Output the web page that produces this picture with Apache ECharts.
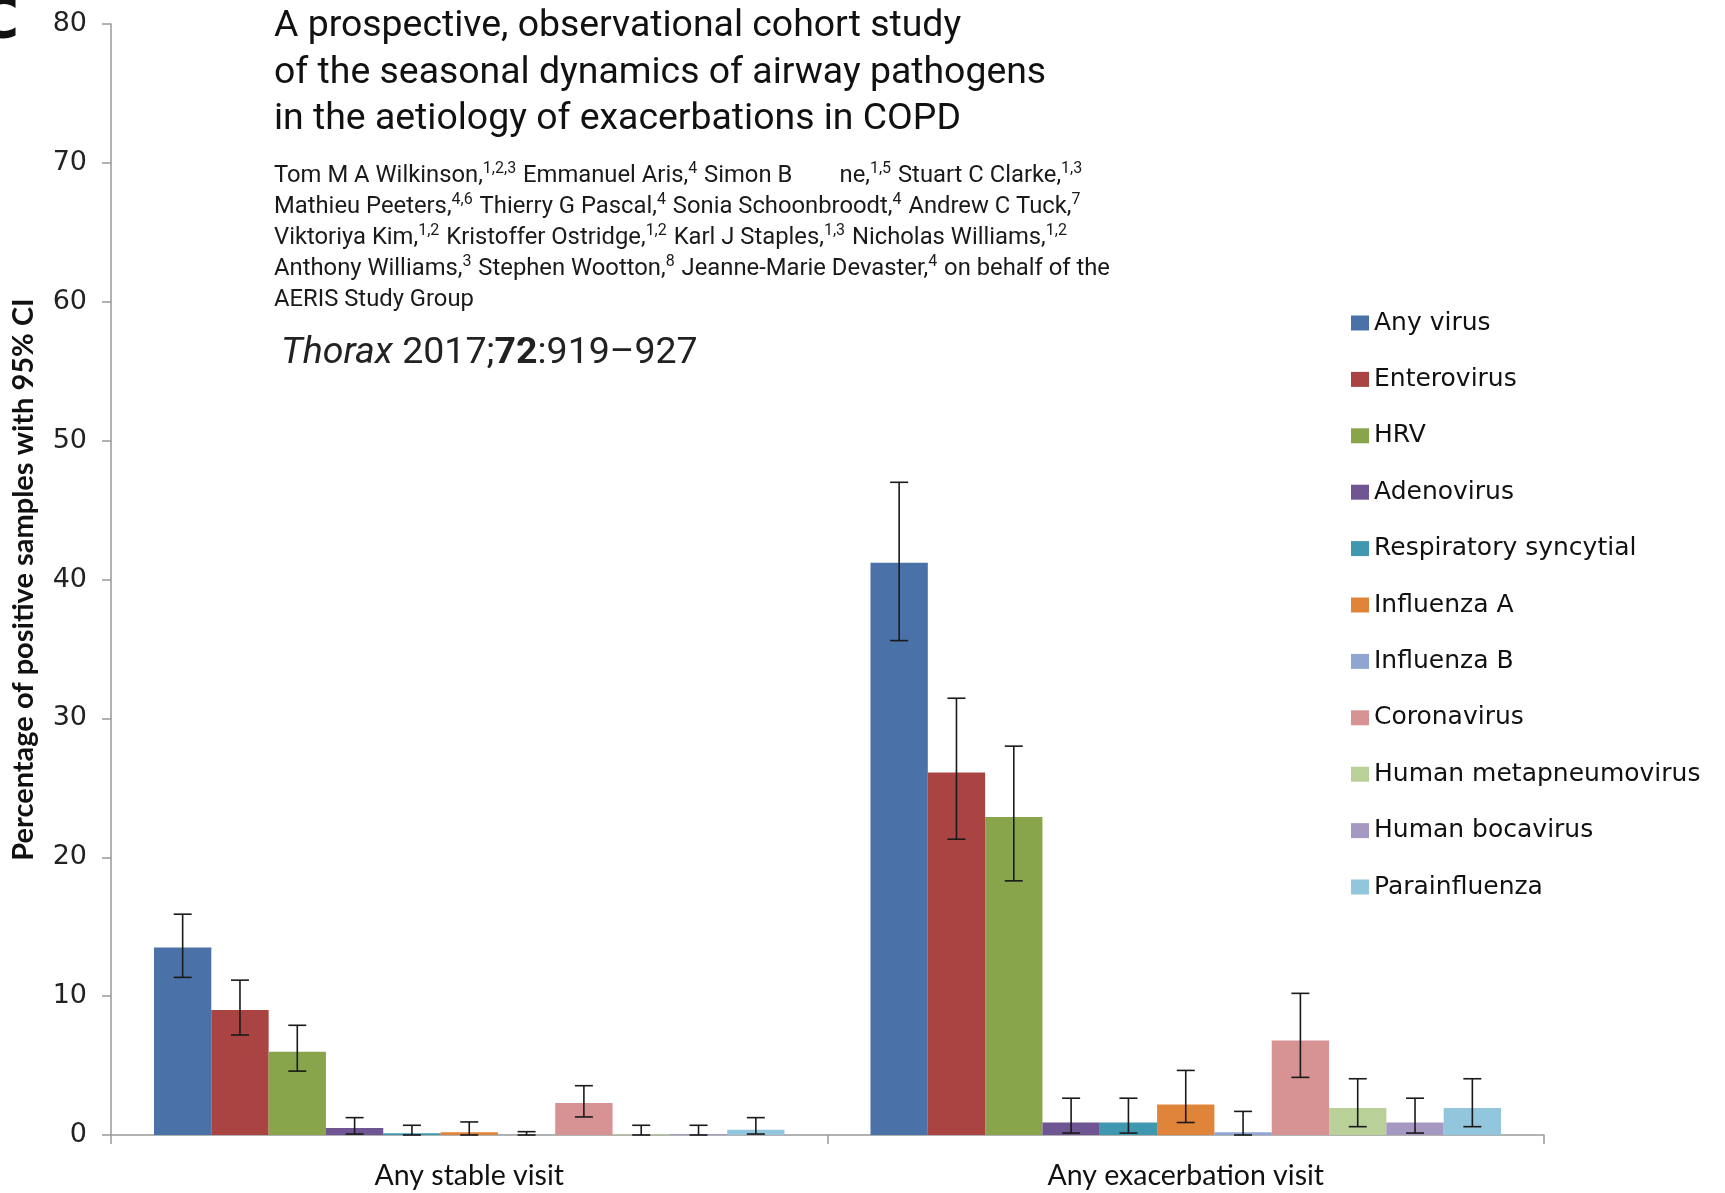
<!DOCTYPE html>
<html>
<head>
<meta charset="utf-8">
<script src="https://cdn.jsdelivr.net/npm/echarts@6/dist/echarts.min.js"></script>
<style>
  html, body { margin: 0; padding: 0; background: #fff; }
  #chart { width: 1725px; height: 1193px; }
</style>
</head>
<body>
<div id="chart"></div>
<script>
// Visit types on the x axis
const categories = ['Any stable visit', 'Any exacerbation visit'];

// Pathogens, in legend / bar order
const pathogens = [
  'Any virus', 'Enterovirus', 'HRV', 'Adenovirus', 'Respiratory syncytial',
  'Influenza A', 'Influenza B', 'Coronavirus', 'Human metapneumovirus',
  'Human bocavirus', 'Parainfluenza'
];

const colors = [
  '#4a72a8', '#a94442', '#89a54c', '#6f5592', '#3f97b0',
  '#e0843a', '#8fa6d2', '#d79293', '#b9d098', '#a599c2', '#92c6dc'
];

// Percentage of positive samples, per pathogen: [stable, exacerbation]
const anyVirus     = [13.5, 41.2];
const enterovirus  = [9.0, 26.1];
const hrv          = [6.0, 22.9];
const adenovirus   = [0.5, 0.9];
const rsv          = [0.12, 0.9];
const influenzaA   = [0.2, 2.2];
const influenzaB   = [0.02, 0.2];
const coronavirus  = [2.3, 6.8];
const hmpv         = [0.06, 1.95];
const bocavirus    = [0.08, 0.9];
const parainfluenza = [0.38, 1.95];

// 95% CI lower / upper bounds: [stable, exacerbation]
const ciLow = {
  'Any virus': [11.35, 35.6],
  'Enterovirus': [7.2, 21.3],
  'HRV': [4.6, 18.3],
  'Adenovirus': [0.07, 0.14],
  'Respiratory syncytial': [0.0, 0.14],
  'Influenza A': [0.0, 0.9],
  'Influenza B': [0.0, 0.0],
  'Coronavirus': [1.3, 4.15],
  'Human metapneumovirus': [0.0, 0.6],
  'Human bocavirus': [0.0, 0.14],
  'Parainfluenza': [0.07, 0.6]
};
const ciHigh = {
  'Any virus': [15.9, 47.0],
  'Enterovirus': [11.15, 31.45],
  'HRV': [7.9, 28.0],
  'Adenovirus': [1.25, 2.65],
  'Respiratory syncytial': [0.7, 2.65],
  'Influenza A': [0.94, 4.65],
  'Influenza B': [0.24, 1.7],
  'Coronavirus': [3.55, 10.2],
  'Human metapneumovirus': [0.7, 4.05],
  'Human bocavirus': [0.7, 2.65],
  'Parainfluenza': [1.25, 4.05]
};

// Y axis ticks
const yMin = 0, yMax = 80, yStep = 10;

const values = [anyVirus, enterovirus, hrv, adenovirus, rsv, influenzaA,
  influenzaB, coronavirus, hmpv, bocavirus, parainfluenza];

const CATEGORY_GAP = 0.12;
const N = pathogens.length;

const barSeries = pathogens.map((name, i) => ({
  name: name,
  type: 'bar',
  data: values[i],
  itemStyle: { color: colors[i] },
  barGap: '0%',
  barCategoryGap: (CATEGORY_GAP * 100) + '%',
  emphasis: { disabled: true }
}));

// Error bars drawn over each bar, placed at that bar's centre
const errorSeries = pathogens.map((name, i) => ({
  name: name,
  type: 'custom',
  z: 5,
  data: categories.map((c, k) => [k, ciLow[name][k], ciHigh[name][k]]),
  encode: { x: 0, y: [1, 2] },
  renderItem: function (params, api) {
    const cat = api.value(0);
    const lo = api.value(1), hi = api.value(2);
    const band = api.size([1, 0])[0];
    const group = band * (1 - CATEGORY_GAP);
    const bw = group / N;
    const cx = api.coord([cat, 0])[0] - group / 2 + (i + 0.5) * bw;
    const yl = api.coord([cat, lo])[1];
    const yh = api.coord([cat, hi])[1];
    const hw = 9;
    const st = { stroke: '#1a1a1a', lineWidth: 1.6 };
    return {
      type: 'group',
      children: [
        { type: 'line', shape: { x1: cx, y1: yl, x2: cx, y2: yh }, style: st },
        { type: 'line', shape: { x1: cx - hw, y1: yh, x2: cx + hw, y2: yh }, style: st },
        { type: 'line', shape: { x1: cx - hw, y1: yl, x2: cx + hw, y2: yl }, style: st }
      ]
    };
  }
}));

const head = "Roboto, sans-serif";
const sup = { fontFamily: head, fontSize: 16, fill: '#1a1a1a', verticalAlign: 'top', lineHeight: 31, padding: [0, 1, 0, 0] };
const txt = { fontFamily: head, fontSize: 23.8, fill: '#1a1a1a', lineHeight: 31 };

const authors = [
  '{t|Tom M A Wilkinson,}{s|1,2,3}{t| Emmanuel Aris,}{s|4}{t| Simon B        ne,}{s|1,5}{t| Stuart C Clarke,}{s|1,3}',
  '{t|Mathieu Peeters,}{s|4,6}{t| Thierry G Pascal,}{s|4}{t| Sonia Schoonbroodt,}{s|4}{t| Andrew C Tuck,}{s|7}',
  '{t|Viktoriya Kim,}{s|1,2}{t| Kristoffer Ostridge,}{s|1,2}{t| Karl J Staples,}{s|1,3}{t| Nicholas Williams,}{s|1,2}',
  '{t|Anthony Williams,}{s|3}{t| Stephen Wootton,}{s|8}{t| Jeanne-Marie Devaster,}{s|4}{t| on behalf of the}',
  '{t|AERIS Study Group}'
].join('\n');

const chart = echarts.init(document.getElementById('chart'), null, { renderer: 'canvas' });

chart.setOption({
  animation: false,
  backgroundColor: '#ffffff',
  grid: { left: 111, right: 181, top: 24, bottom: 58, containLabel: false },
  legend: {
    orient: 'vertical',
    left: 1346,
    top: 303,
    itemWidth: 18,
    itemHeight: 15,
    itemGap: 26.4,
    icon: 'rect',
    data: pathogens.map(n => ({ name: n, icon: 'rect' })),
    textStyle: { fontFamily: "'DejaVu Sans', sans-serif", fontSize: 25, color: '#111', lineHeight: 30 },
    selectedMode: false
  },
  xAxis: {
    type: 'category',
    data: categories,
    axisLine: { lineStyle: { color: '#999', width: 1.5 } },
    axisTick: { show: true, length: 9, lineStyle: { color: '#999', width: 1.5 } },
    axisLabel: { fontFamily: 'Lato, sans-serif', fontSize: 28.5, color: '#111', margin: 26 },
    splitLine: { show: false }
  },
  yAxis: {
    type: 'value',
    min: yMin,
    max: yMax,
    interval: yStep,
    name: 'Percentage of positive samples with 95% CI',
    nameLocation: 'middle',
    nameGap: 73,
    nameTextStyle: { fontFamily: 'Lato, sans-serif', fontWeight: 'bold', fontSize: 29, color: '#111' },
    axisLine: { show: true, lineStyle: { color: '#999', width: 1.5 } },
    axisTick: { show: true, length: 9, lineStyle: { color: '#999', width: 1.5 } },
    axisLabel: { fontFamily: "'DejaVu Sans', sans-serif", fontSize: 27, color: '#222', margin: 24 },
    splitLine: { show: false }
  },
  graphic: [
    {
      type: 'text', x: 19, y: 22,
      style: { text: 'C', align: 'right', verticalAlign: 'middle', fontFamily: "'DejaVu Sans', sans-serif", fontWeight: 'bold', fontSize: 56, fill: '#111' }
    },
    {
      type: 'text', left: 274, top: 4,
      style: {
        text: 'A prospective, observational cohort study\nof the seasonal dynamics of airway pathogens\nin the aetiology of exacerbations in COPD',
        fontFamily: head, fontSize: 37.4, lineHeight: 46.2, fill: '#111'
      }
    },
    {
      type: 'text', left: 274, top: 161,
      style: { text: authors, rich: { t: txt, s: sup }, fontFamily: head, fontSize: 23.8, lineHeight: 31, fill: '#1a1a1a' }
    },
    {
      type: 'text', left: 281, top: 335,
      style: {
        text: '{i|Thorax} {n|2017;}{b|72}{n|:919–927}',
        rich: {
          i: { fontFamily: head, fontStyle: 'italic', fontSize: 37.5, fill: '#222', lineHeight: 44 },
          n: { fontFamily: head, fontSize: 37.5, fill: '#222', lineHeight: 44 },
          b: { fontFamily: head, fontWeight: 'bold', fontSize: 37.5, fill: '#222', lineHeight: 44 }
        },
        fontFamily: head, fontSize: 37.5, fill: '#222'
      }
    }
  ],
  series: barSeries.concat(errorSeries)
});
</script>
</body>
</html>
